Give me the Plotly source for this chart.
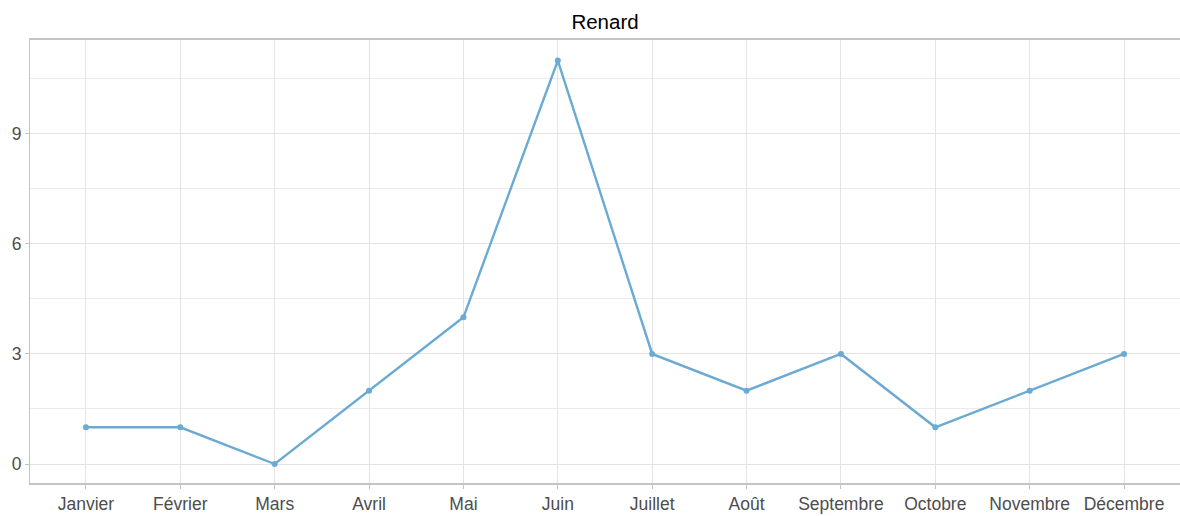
import plotly.graph_objects as go

months = ["Janvier", "Février", "Mars", "Avril", "Mai", "Juin", "Juillet",
          "Août", "Septembre", "Octobre", "Novembre", "Décembre"]
values = [1, 1, 0, 2, 4, 11, 3, 2, 3, 1, 2, 3]
title_text = "Renard"
line_color = "#6baad2"

fig = go.Figure()
fig.add_trace(go.Scatter(
    x=list(range(len(months))), y=values, mode="lines+markers",
    line=dict(color=line_color, width=2.4),
    marker=dict(color=line_color, size=6),
    hoverinfo="skip", showlegend=False,
))

fig.update_layout(
    width=1180, height=516,
    margin=dict(l=30, r=0, t=40, b=33),
    paper_bgcolor="white", plot_bgcolor="white",
    font=dict(family="Liberation Sans, Arial, sans-serif", color="#4d4d4d", size=17.5),
    title=dict(text=title_text, x=0.5, xref="paper", xanchor="center",
               y=0.957, yanchor="middle",
               font=dict(size=20.5, color="black")),
    xaxis=dict(
        tickmode="array", tickvals=list(range(len(months))), ticktext=months,
        range=[-0.593, 11.593], showgrid=True, gridcolor="#e3e3e3", gridwidth=1,
        showline=True, linecolor="#c4c4c4", linewidth=2, mirror=True,
        ticks="outside", ticklen=4, tickcolor="#c4c4c4", zeroline=False,
        fixedrange=True,
    ),
    yaxis=dict(
        range=[-0.518, 11.56], dtick=3, tick0=0, showgrid=True,
        gridcolor="#e3e3e3", gridwidth=1,
        minor=dict(dtick=1.5, tick0=0, showgrid=True, gridcolor="#ebebeb", gridwidth=1),
        showline=True, linecolor="#c4c4c4", linewidth=1, mirror=False,
        ticks="outside", ticklen=4, tickcolor="#c4c4c4", zeroline=False,
        fixedrange=True,
    ),
)

fig.write_html(
    "out.html",
    config={"displayModeBar": False, "staticPlot": True},
    post_script="document.body.style.margin='0';document.body.style.overflow='hidden';"
                "document.documentElement.style.overflow='hidden';",
)
